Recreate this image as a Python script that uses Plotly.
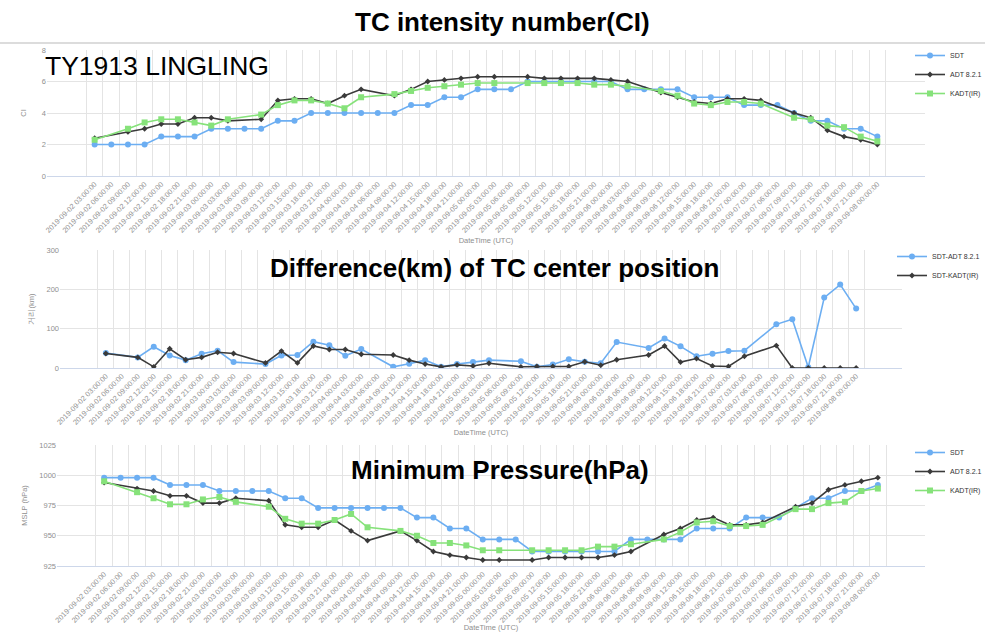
import pandas as pd
import plotly.graph_objects as go

# ---------------- data ----------------
times = pd.date_range("2019-09-02 03:00", "2019-09-08 00:00", freq="3h")
categories = [t.strftime("%Y-%m-%d %H:%M:%S") for t in times]

ci_sdt = [2.0, 2.0, 2.0, 2.0, 2.5, 2.5, 2.5, 3.0, 3.0, 3.0, 3.0, 3.5, 3.5, 4.0, 4.0, 4.0,
          4.0, 4.0, 4.0, 4.5, 4.5, 5.0, 5.0, 5.5, 5.5, 5.5, 6.0, 6.0, 6.0, 6.0, 6.0, 6.0,
          5.5, 5.5, 5.5, 5.5, 5.0, 5.0, 5.0, 4.5, 4.5, 4.5, 4.0, 3.5, 3.5, 3.0, 3.0, 2.5]
ci_adt = [2.4, None, 2.8, 3.0, 3.3, 3.3, 3.7, 3.7, 3.5, None, 3.6, 4.8, 4.9, 4.9, 4.6, 5.1,
          5.5, None, 5.1, 5.5, 6.0, 6.1, 6.2, 6.3, 6.3, None, 6.3, 6.2, 6.2, 6.2, 6.2, 6.1,
          6.0, None, 5.3, 5.0, 4.7, 4.6, 4.9, 4.9, 4.8, None, 4.0, 3.7, 2.9, 2.5, 2.3, 2.0]
ci_kadt = [2.3, None, 3.0, 3.4, 3.6, 3.6, 3.4, 3.2, 3.6, None, 3.9, 4.5, 4.8, 4.8, 4.6, 4.3,
           5.0, None, 5.2, 5.4, 5.6, 5.7, 5.8, 5.9, 5.9, None, 5.9, 5.9, 5.9, 5.9, 5.8, 5.8,
           5.7, None, 5.4, 5.1, 4.6, 4.5, 4.7, 4.7, 4.6, None, 3.7, 3.6, 3.2, 3.1, 2.5, 2.2]

dist_sdt_adt = [38, None, 27, 54, 32, 20, 36, 44, 15, None, 10, 32, 33, 67, 58, 31,
                48, None, 3, 11, 20, 3, 10, 15, 20, None, 17, 3, 9, 22, 16, 12,
                66, None, 51, 75, 55, 30, 36, 43, 44, None, 111, 124, 2, 179, 212, 151]
dist_sdt_kadt = [37, None, 27, 3, 49, 21, 27, 40, 37, None, 13, 43, 13, 56, 47, 47,
                 35, None, 33, 20, 10, 3, 8, 5, 12, None, 3, 4, 4, 4, 16, 7,
                 21, None, 33, 56, 15, 24, 5, 4, 30, None, 57, 0, 0, 0, 0, 0]

p_sdt = [998, 998, 998, 998, 992, 992, 992, 987, 987, 987, 987, 981, 981, 973, 973, 973,
         973, 973, 973, 965, 965, 956, 956, 947, 947, 947, 937, 937, 937, 937, 937, 937,
         947, 947, 947, 947, 956, 956, 956, 965, 965, 965, 973, 981, 981, 987, 987, 992]
p_adt = [994, None, 989, 987, 983, 983, 977, 977, 981, None, 979, 959, 957, 957, 963, 954,
         946, None, 954, 946, 937, 934, 932, 930, 930, None, 930, 932, 932, 932, 932, 934,
         937, None, 951, 956, 963, 965, 959, 959, 961, None, 974, 977, 988, 992, 995, 998]
p_kadt = [995, None, 986, 981, 976, 976, 980, 982, 978, None, 974, 964, 960, 960, 963, 968,
          957, None, 954, 950, 944, 944, 942, 938, 938, None, 938, 938, 938, 938, 941, 941,
          943, None, 947, 953, 961, 962, 958, 958, 959, None, 972, 972, 977, 978, 987, 989]

# ---------------- styling ----------------
W, H = 985, 632
FONT = "Liberation Sans, Arial, sans-serif"
C_SDT, C_ADT, C_KADT = "#6caef2", "#3a3a3a", "#86e27a"
GRID = "#e4e4e4"
TICKC = "#8f8f8f"


def xd(a, b):
    return [a / W, b / W]


def yd(top, bottom):
    return [1 - bottom / H, 1 - top / H]


def sdt_style():
    return dict(mode="lines+markers", line=dict(color=C_SDT, width=1.6),
                marker=dict(symbol="circle", size=6, color=C_SDT), connectgaps=True)


def adt_style():
    return dict(mode="lines+markers", line=dict(color=C_ADT, width=1.6),
                marker=dict(symbol="diamond", size=4.5, color=C_ADT), connectgaps=True)


def kadt_style():
    return dict(mode="lines+markers", line=dict(color=C_KADT, width=1.6),
                marker=dict(symbol="square", size=6, color=C_KADT), connectgaps=True)


fig = go.Figure()
# top
fig.add_trace(go.Scatter(x=categories, y=ci_sdt, name="SDT", xaxis="x", yaxis="y",
                         legend="legend", **sdt_style()))
fig.add_trace(go.Scatter(x=categories, y=ci_adt, name="ADT 8.2.1", xaxis="x", yaxis="y",
                         legend="legend", **adt_style()))
fig.add_trace(go.Scatter(x=categories, y=ci_kadt, name="KADT(IR)", xaxis="x", yaxis="y",
                         legend="legend", **kadt_style()))
# middle
fig.add_trace(go.Scatter(x=categories, y=dist_sdt_adt, name="SDT-ADT 8.2.1", xaxis="x2",
                         yaxis="y2", legend="legend2", **sdt_style()))
fig.add_trace(go.Scatter(x=categories, y=dist_sdt_kadt, name="SDT-KADT(IR)", xaxis="x2",
                         yaxis="y2", legend="legend2", **adt_style()))
# bottom
fig.add_trace(go.Scatter(x=categories, y=p_sdt, name="SDT", xaxis="x3", yaxis="y3",
                         legend="legend3", **sdt_style()))
fig.add_trace(go.Scatter(x=categories, y=p_adt, name="ADT 8.2.1", xaxis="x3", yaxis="y3",
                         legend="legend3", **adt_style()))
fig.add_trace(go.Scatter(x=categories, y=p_kadt, name="KADT(IR)", xaxis="x3", yaxis="y3",
                         legend="legend3", **kadt_style()))


def xaxis_cfg(dom, anchor):
    return dict(domain=dom, anchor=anchor, type="category", tickson="boundaries",
                showgrid=True, gridcolor=GRID, gridwidth=1, tickangle=-45,
                tickfont=dict(size=7.4, color=TICKC), showline=True, linecolor="#cdd7ea",
                linewidth=1, ticks="", zeroline=False,
                title=dict(text="DateTime (UTC)", font=dict(size=7.5, color=TICKC), standoff=4),
                categoryorder="array", categoryarray=categories)


def yaxis_cfg(dom, anchor, rng, dtick, title, standoff):
    return dict(domain=dom, anchor=anchor, range=rng, dtick=dtick, showgrid=True,
                gridcolor=GRID, gridwidth=1, tickfont=dict(size=7.5, color=TICKC),
                zeroline=False, showline=False, ticks="",
                title=dict(text=title, font=dict(size=7.5, color=TICKC), standoff=standoff))


def legend_cfg(x, y):
    return dict(x=x / W, y=1 - y / H, xanchor="left", yanchor="top",
                font=dict(size=7, color="#333", family=FONT), bgcolor="rgba(0,0,0,0)",
                itemwidth=30, tracegroupgap=0, traceorder="normal")


fig.update_layout(
    width=W, height=H, margin=dict(l=0, r=0, t=0, b=0, autoexpand=False),
    paper_bgcolor="white", plot_bgcolor="white",
    font=dict(family=FONT, color="#333"),
    xaxis=xaxis_cfg(xd(47, 925), "y"),
    yaxis=yaxis_cfg(yd(50, 176), "x", [0, 8], 2, "CI", 14),
    xaxis2=xaxis_cfg(xd(60, 902), "y2"),
    yaxis2=yaxis_cfg(yd(250, 368), "x2", [0, 300], 100, "거리(km)", 10),
    xaxis3=xaxis_cfg(xd(57, 925), "y3"),
    yaxis3=yaxis_cfg(yd(445, 566), "x3", [925, 1025], 25, "MSLP (hPa)", 10),
    legend=legend_cfg(910, 41),
    legend2=legend_cfg(892, 242),
    legend3=legend_cfg(910, 438),
    showlegend=True,
)

titles = [
    ("TC intensity number(CI)", 502, 22),
    ("Difference(km) of TC center position", 494, 268),
    ("Minimum Pressure(hPa)", 500, 470),
]
for txt, cx, cy in titles:
    fig.add_annotation(text="<b>" + txt + "</b>", x=cx / W, y=1 - cy / H, xref="paper",
                       yref="paper", xanchor="center", yanchor="middle", showarrow=False,
                       font=dict(size=26, color="#000", family=FONT))

fig.add_annotation(text="TY1913 LINGLING", x=43 / W, y=1 - 66 / H, xref="paper", yref="paper",
                   xanchor="left", yanchor="middle", showarrow=False,
                   font=dict(size=26.5, color="#000", family=FONT))

fig.add_shape(type="line", xref="paper", yref="paper", x0=0, x1=1, y0=1 - 43 / H,
              y1=1 - 43 / H, line=dict(color="#d0d0d0", width=1.5))

fig.write_html("out.html")
